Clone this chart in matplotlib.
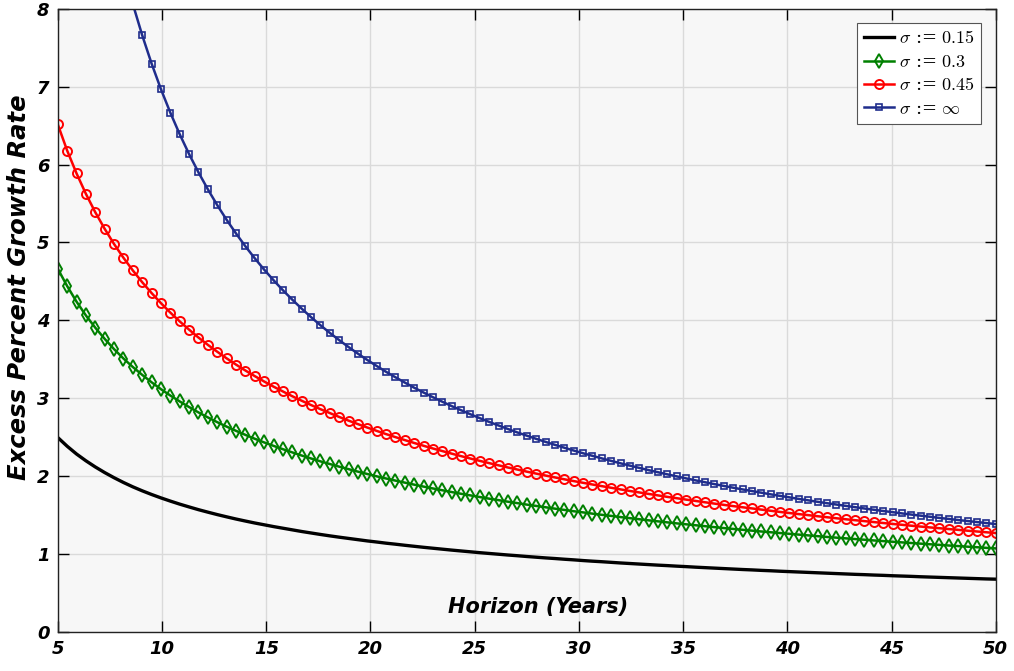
import matplotlib
matplotlib.use("Agg")
import matplotlib.pyplot as plt

# Horizon (years) at each marker
horizon = [5.0, 5.45, 5.9, 6.35, 6.8, 7.25, 7.7, 8.15, 8.6, 9.05, 9.5, 9.95, 10.4, 10.85, 11.3,
           11.75, 12.2, 12.65, 13.1, 13.55, 14.0, 14.45, 14.9, 15.35, 15.8, 16.25, 16.7, 17.15,
           17.6, 18.05, 18.5, 18.95, 19.4, 19.85, 20.3, 20.75, 21.2, 21.65, 22.1, 22.55, 23.0,
           23.45, 23.9, 24.35, 24.8, 25.25, 25.7, 26.15, 26.6, 27.05, 27.5, 27.95, 28.4, 28.85,
           29.3, 29.75, 30.2, 30.65, 31.1, 31.55, 32.0, 32.45, 32.9, 33.35, 33.8, 34.25, 34.7,
           35.15, 35.6, 36.05, 36.5, 36.95, 37.4, 37.85, 38.3, 38.75, 39.2, 39.65, 40.1, 40.55,
           41.0, 41.45, 41.9, 42.35, 42.8, 43.25, 43.7, 44.15, 44.6, 45.05, 45.5, 45.95, 46.4,
           46.85, 47.3, 47.75, 48.2, 48.65, 49.1, 49.55, 50.0]

sigma_015 = [2.497, 2.385, 2.285, 2.198, 2.119, 2.047, 1.981, 1.920, 1.864, 1.813, 1.766, 1.722,
             1.681, 1.642, 1.606, 1.571, 1.539, 1.508, 1.479, 1.451, 1.425, 1.400, 1.377, 1.354,
             1.333, 1.312, 1.291, 1.272, 1.253, 1.235, 1.218, 1.202, 1.186, 1.170, 1.156, 1.141,
             1.128, 1.114, 1.101, 1.088, 1.076, 1.064, 1.052, 1.041, 1.030, 1.019, 1.009, 0.999,
             0.989, 0.980, 0.970, 0.961, 0.952, 0.944, 0.935, 0.927, 0.918, 0.910, 0.903, 0.895,
             0.887, 0.880, 0.873, 0.866, 0.859, 0.853, 0.846, 0.840, 0.833, 0.827, 0.821, 0.815,
             0.809, 0.803, 0.798, 0.792, 0.787, 0.781, 0.776, 0.771, 0.766, 0.761, 0.756, 0.751,
             0.746, 0.741, 0.737, 0.732, 0.728, 0.723, 0.719, 0.715, 0.710, 0.706, 0.702, 0.698,
             0.694, 0.690, 0.686, 0.682, 0.679]

sigma_030 = [4.662, 4.440, 4.240, 4.063, 3.906, 3.763, 3.631, 3.511, 3.402, 3.301, 3.206, 3.117,
             3.036, 2.960, 2.888, 2.819, 2.755, 2.694, 2.637, 2.583, 2.531, 2.481, 2.434, 2.390,
             2.347, 2.306, 2.266, 2.228, 2.191, 2.157, 2.123, 2.091, 2.059, 2.029, 1.999, 1.971,
             1.944, 1.918, 1.892, 1.867, 1.843, 1.820, 1.797, 1.775, 1.754, 1.733, 1.712, 1.693,
             1.673, 1.655, 1.636, 1.619, 1.602, 1.584, 1.568, 1.551, 1.536, 1.520, 1.505, 1.491,
             1.476, 1.462, 1.448, 1.434, 1.421, 1.408, 1.395, 1.383, 1.371, 1.359, 1.347, 1.335,
             1.324, 1.313, 1.302, 1.291, 1.281, 1.271, 1.261, 1.251, 1.241, 1.231, 1.221, 1.212,
             1.203, 1.194, 1.185, 1.176, 1.168, 1.159, 1.151, 1.143, 1.135, 1.127, 1.119, 1.111,
             1.104, 1.096, 1.089, 1.081, 1.074]

sigma_045 = [6.515, 6.179, 5.886, 5.623, 5.387, 5.175, 4.980, 4.804, 4.641, 4.490, 4.351, 4.221,
             4.100, 3.987, 3.881, 3.780, 3.686, 3.598, 3.513, 3.433, 3.357, 3.285, 3.216, 3.150,
             3.088, 3.027, 2.969, 2.914, 2.861, 2.811, 2.761, 2.714, 2.669, 2.625, 2.582, 2.541,
             2.502, 2.464, 2.427, 2.391, 2.356, 2.323, 2.290, 2.258, 2.227, 2.197, 2.168, 2.140,
             2.112, 2.086, 2.059, 2.034, 2.009, 1.985, 1.961, 1.938, 1.916, 1.894, 1.873, 1.852,
             1.831, 1.811, 1.792, 1.773, 1.754, 1.735, 1.718, 1.700, 1.683, 1.666, 1.649, 1.633,
             1.617, 1.602, 1.587, 1.572, 1.557, 1.542, 1.528, 1.514, 1.501, 1.487, 1.474, 1.461,
             1.448, 1.436, 1.424, 1.412, 1.400, 1.388, 1.377, 1.365, 1.354, 1.343, 1.333, 1.322,
             1.312, 1.301, 1.291, 1.281, 1.271]

sigma_inf = [13.863, 12.718, 11.748, 10.916, 10.193, 9.561, 9.002, 8.505, 8.060, 7.659, 7.296,
             6.966, 6.665, 6.388, 6.134, 5.899, 5.682, 5.479, 5.291, 5.116, 4.951, 4.797, 4.652,
             4.516, 4.387, 4.266, 4.151, 4.042, 3.938, 3.840, 3.747, 3.658, 3.573, 3.492, 3.415,
             3.340, 3.270, 3.202, 3.136, 3.074, 3.014, 2.956, 2.900, 2.847, 2.795, 2.745, 2.697,
             2.651, 2.606, 2.562, 2.521, 2.480, 2.441, 2.403, 2.366, 2.330, 2.295, 2.262, 2.229,
             2.197, 2.166, 2.136, 2.107, 2.078, 2.051, 2.024, 1.998, 1.972, 1.947, 1.923, 1.899,
             1.876, 1.853, 1.831, 1.810, 1.789, 1.768, 1.748, 1.729, 1.709, 1.691, 1.672, 1.654,
             1.637, 1.620, 1.603, 1.586, 1.570, 1.554, 1.539, 1.523, 1.508, 1.494, 1.480, 1.465,
             1.452, 1.438, 1.425, 1.412, 1.399, 1.386]

labels = [r'$\sigma$ := $0.15$', r'$\sigma$ := $0.3$', r'$\sigma$ := $0.45$',
          r'$\sigma$ := $\infty$']
x_ticks = [5, 10, 15, 20, 25, 30, 35, 40, 45, 50]
y_ticks = [0, 1, 2, 3, 4, 5, 6, 7, 8]

plt.rcParams['mathtext.fontset'] = 'cm'

fig = plt.figure(figsize=(10.14, 6.71), dpi=100)
ax = fig.add_axes([0.057, 0.058, 0.925, 0.929])
ax.set_facecolor('#f7f7f7')

ax.plot(horizon, sigma_015, color='black', lw=2.4, label=labels[0])
ax.plot(horizon, sigma_030, color='#008000', lw=1.8, marker='d', ms=7.5, mfc='none',
        mec='#008000', mew=1.4, label=labels[1])
ax.plot(horizon, sigma_045, color='#ff0000', lw=1.8, marker='o', ms=6.5, mfc='none',
        mec='#ff0000', mew=1.4, label=labels[2])
ax.plot(horizon, sigma_inf, color='#1f2d8c', lw=1.8, marker='s', ms=5, mfc='none',
        mec='#1f2d8c', mew=1.2, label=labels[3])

ax.set_xlim(5, 50)
ax.set_ylim(0, 8)
ax.set_xticks(x_ticks)
ax.set_yticks(y_ticks)
ax.grid(True, color='#dadada', lw=1.0)
ax.set_axisbelow(True)
ax.tick_params(direction='in', length=8, width=1, top=True, right=True,
               labelsize=13, pad=6)
for lab in ax.get_xticklabels() + ax.get_yticklabels():
    lab.set_fontweight('bold')
    lab.set_fontstyle('italic')
for sp in ax.spines.values():
    sp.set_linewidth(1.0)
    sp.set_color('#222222')

ax.set_ylabel('Excess Percent Growth Rate', fontsize=17.5, fontweight='bold',
              fontstyle='italic')
ax.yaxis.set_label_coords(-0.029, 0.554)
ax.text(0.512, 0.04, 'Horizon (Years)', transform=ax.transAxes, ha='center', va='center',
        fontsize=15, fontweight='bold', fontstyle='italic')

leg = ax.legend(loc='upper right', prop={'family': 'DejaVu Serif', 'size': 13},
                fancybox=False, framealpha=1,
                edgecolor='#555555', handlelength=1.7, borderpad=0.35, labelspacing=0.3,
                handletextpad=0.25, borderaxespad=0.8)
leg.get_frame().set_linewidth(0.8)

fig.savefig('out.png', dpi=100)
